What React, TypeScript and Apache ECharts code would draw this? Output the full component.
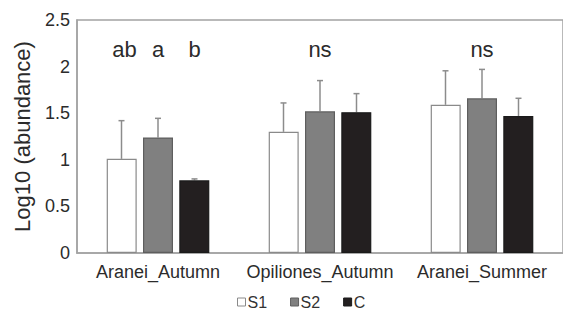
import React, { useEffect, useRef } from "react";
import * as echarts from "echarts";

const categories = ["Aranei_Autumn", "Opiliones_Autumn", "Aranei_Summer"];
const seriesNames = ["S1", "S2", "C"];
const meansS1 = [1.01, 1.3, 1.59];
const meansS2 = [1.24, 1.52, 1.66];
const meansC = [0.78, 1.51, 1.47];
const errS1 = [0.41, 0.31, 0.365];
const errS2 = [0.205, 0.33, 0.31];
const errC = [0.015, 0.2, 0.19];
const sigLabels = [["ab", "a", "b"], ["ns"], ["ns"]];
const sigLevel = 2.18;
const yTicks = [0, 0.5, 1, 1.5, 2, 2.5];

const FONT = "'Liberation Sans', Arial, sans-serif";
const BAR_W = 30;
const BAR_STEP = 36.5;

export default function App() {
  const ref = useRef<HTMLDivElement>(null);
  useEffect(() => {
    if (!ref.current) return;
    const chart = echarts.init(ref.current, null, { renderer: "svg" });
    const means = [meansS1, meansS2, meansC];
    const errs = [errS1, errS2, errC];
    const fills = ["#ffffff", "#808080", "#231f20"];
    const borders = ["#8a8a8a", "#5e5e5e", "#1a1a1a"];

    const errData: any[] = [];
    means.forEach((m, s) => {
      m.forEach((v, c) => errData.push([c, v, v + errs[s][c], s]));
    });
    const sigData: any[] = [];
    sigLabels.forEach((labs, c) => {
      labs.forEach((t, k) => sigData.push([c, sigLevel, labs.length === 1 ? 1 : k, t]));
    });

    const barSeries = seriesNames.map((name, s) => ({
      name,
      type: "bar",
      data: means[s],
      barWidth: BAR_W,
      barGap: "21%",
      itemStyle: { color: fills[s], borderColor: borders[s], borderWidth: 1.2 },
      emphasis: { disabled: true },
    }));

    chart.setOption({
      animation: false,
      grid: {
        left: 77,
        top: 20,
        width: 495,
        height: 233,
        show: true,
        borderColor: "#a3a3a3",
        borderWidth: 1.5,
        backgroundColor: "transparent",
      },
      legend: {
        data: seriesNames,
        left: 237,
        top: 294,
        padding: 0,
        itemWidth: 8,
        itemHeight: 8,
        itemGap: 23,
        icon: "rect",
        itemStyle: { borderWidth: 1 },
        textStyle: { fontFamily: FONT, fontSize: 16, color: "#333", padding: [0, 0, 0, -3] },
      },
      xAxis: {
        type: "category",
        data: categories,
        axisLine: { lineStyle: { color: "#a3a3a3", width: 1.5 } },
        axisTick: { show: false },
        axisLabel: { fontFamily: FONT, fontSize: 18, color: "#2b2b2b", margin: 10, interval: 0 },
      },
      yAxis: {
        type: "value",
        min: 0,
        max: yTicks[yTicks.length - 1],
        interval: 0.5,
        name: "Log10 (abundance)",
        nameLocation: "middle",
        nameGap: 44,
        nameTextStyle: { fontFamily: FONT, fontSize: 22, color: "#2b2b2b" },
        axisLine: { show: true, lineStyle: { color: "#a3a3a3", width: 1.5 } },
        axisTick: { show: false },
        splitLine: { show: false },
        axisLabel: { fontFamily: FONT, fontSize: 18, color: "#2b2b2b", margin: 7 },
      },
      series: [
        ...barSeries,
        {
          type: "custom",
          silent: true,
          z: 1,
          data: errData,
          encode: { x: 0, y: [1, 2] },
          renderItem: (params: any, api: any) => {
            const c = api.value(0);
            const lo = api.coord([c, api.value(1)]);
            const hi = api.coord([c, api.value(2)]);
            const s = api.value(3);
            const x = lo[0] + (s - 1) * BAR_STEP;
            const style = { stroke: "#8c8c8c", lineWidth: 1.5 };
            return {
              type: "group",
              children: [
                { type: "line", shape: { x1: x, y1: lo[1], x2: x, y2: hi[1] }, style },
                { type: "line", shape: { x1: x - 3, y1: hi[1], x2: x + 3, y2: hi[1] }, style },
              ],
            };
          },
        },
        {
          type: "custom",
          silent: true,
          data: sigData,
          encode: { x: 0, y: 1 },
          renderItem: (params: any, api: any) => {
            const c = api.value(0);
            const p = api.coord([c, api.value(1)]);
            const k = api.value(2);
            const t = sigData[params.dataIndex][3];
            return {
              type: "text",
              style: {
                text: t,
                x: p[0] + (k - 1) * BAR_STEP + (t === "ab" ? 3 : 0),
                y: p[1],
                align: "center",
                verticalAlign: "middle",
                fontFamily: FONT,
                fontSize: 22,
                fill: "#2b2b2b",
              },
            };
          },
        },
      ],
    });
    return () => chart.dispose();
  }, []);
  return (
    <div
      ref={ref}
      style={{ position: "fixed", left: 0, top: 0, width: 563, height: 309, background: "#fff" }}
    />
  );
}
